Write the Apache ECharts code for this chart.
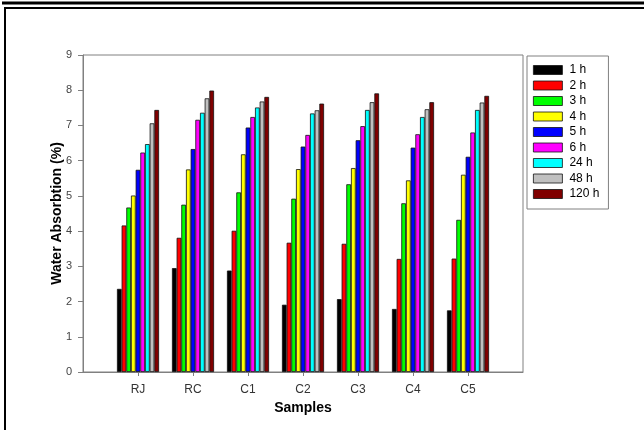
<!DOCTYPE html>
<html>
<head>
<meta charset="utf-8">
<script src="https://cdn.jsdelivr.net/npm/echarts@6/dist/echarts.min.js"></script>
<style>html,body{margin:0;padding:0;background:#fff}#chart{width:644px;height:430px}</style>
</head>
<body>
<div id="chart"></div>
<script>
var categories = ['RJ', 'RC', 'C1', 'C2', 'C3', 'C4', 'C5'];
var seriesNames = ['1 h', '2 h', '3 h', '4 h', '5 h', '6 h', '24 h', '48 h', '120 h'];
var seriesColors = ['#000000', '#ff0000', '#00ff00', '#ffff00', '#0000ff', '#ff00ff', '#00ffff', '#c0c0c0', '#800000'];
var yTicks = [0, 1, 2, 3, 4, 5, 6, 7, 8, 9];

var h1   = [2.36, 2.95, 2.88, 1.91, 2.07, 1.79, 1.75];
var h2   = [4.16, 3.81, 4.01, 3.67, 3.64, 3.21, 3.22];
var h3   = [4.67, 4.75, 5.10, 4.92, 5.33, 4.79, 4.32];
var h4   = [5.01, 5.75, 6.18, 5.76, 5.79, 5.44, 5.60];
var h5   = [5.74, 6.33, 6.94, 6.40, 6.58, 6.37, 6.11];
var h6   = [6.23, 7.16, 7.24, 6.73, 6.98, 6.75, 6.80];
var h24  = [6.47, 7.36, 7.51, 7.34, 7.44, 7.24, 7.44];
var h48  = [7.06, 7.77, 7.68, 7.43, 7.66, 7.46, 7.65];
var h120 = [7.44, 7.99, 7.81, 7.62, 7.91, 7.66, 7.84];
var allValues = [h1, h2, h3, h4, h5, h6, h24, h48, h120];

var FONT = "'Liberation Sans', Arial, sans-serif";
var axisData = [''].concat(categories, ['']);

var series = seriesNames.map(function (name, i) {
  return {
    name: name,
    type: 'bar',
    data: [null].concat(allValues[i], [null]),
    barGap: '0%',
    barCategoryGap: '23.5%',
    itemStyle: { color: seriesColors[i], borderColor: '#111', borderWidth: 0.8 }
  };
});

var chart = echarts.init(document.getElementById('chart'), null, { renderer: 'canvas' });
chart.setOption({
  animation: false,
  backgroundColor: '#fff',
  grid: { left: 83, right: 121, top: 55, bottom: 58, show: true, borderColor: '#808080', borderWidth: 1, backgroundColor: 'transparent' },
  legend: {
    orient: 'vertical',
    left: 527, top: 56,
    padding: [8, 9, 9, 6],
    itemWidth: 29, itemHeight: 9, itemGap: 3.5,
    icon: 'rect',
    borderColor: '#808080', borderWidth: 1,
    itemStyle: { borderColor: '#111', borderWidth: 0.8 },
    textStyle: { fontFamily: FONT, fontSize: 12, color: '#000', padding: [0, 0, 0, 2] },
    data: seriesNames
  },
  xAxis: {
    type: 'category',
    data: axisData,
    boundaryGap: false,
    name: 'Samples',
    nameLocation: 'middle',
    nameGap: 29,
    nameMoveOverlap: false,
    nameTextStyle: { fontFamily: FONT, fontSize: 14, fontWeight: 'bold', color: '#000' },
    axisLine: { lineStyle: { color: '#808080', width: 1 } },
    axisTick: { show: true, length: 4, lineStyle: { color: '#808080' }, interval: function (idx) { return idx > 0 && idx < axisData.length - 1; } },
    axisLabel: { fontFamily: FONT, fontSize: 12, color: '#333', margin: 12, interval: 0 },
    splitLine: { show: false }
  },
  yAxis: {
    type: 'value',
    min: yTicks[0], max: yTicks[yTicks.length - 1], interval: 1,
    name: 'Water Absorbtion (%)',
    nameLocation: 'middle',
    nameGap: 19,
    nameMoveOverlap: false,
    nameTextStyle: { fontFamily: FONT, fontSize: 14, fontWeight: 'bold', color: '#000' },
    axisLine: { show: true, lineStyle: { color: '#808080', width: 1 } },
    axisTick: { show: true, length: 5, lineStyle: { color: '#808080' } },
    axisLabel: { fontFamily: FONT, fontSize: 11, color: '#444', margin: 11 },
    splitLine: { show: false }
  },
  graphic: [
    { type: 'line', shape: { x1: 2, y1: 3, x2: 644, y2: 3 }, style: { stroke: '#000', lineWidth: 3 }, silent: true },
    { type: 'line', shape: { x1: 4, y1: 8, x2: 644, y2: 8 }, style: { stroke: '#000', lineWidth: 2 }, silent: true },
    { type: 'line', shape: { x1: 5, y1: 7, x2: 5, y2: 430 }, style: { stroke: '#000', lineWidth: 2 }, silent: true }
  ],
  series: series
});
</script>
</body>
</html>
